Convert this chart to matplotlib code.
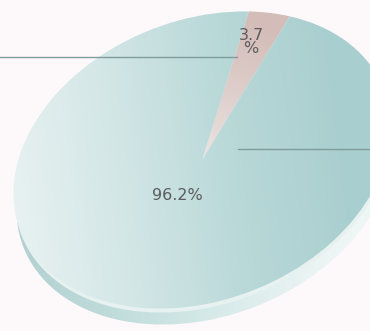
import numpy as np
import matplotlib
matplotlib.use("Agg")
import matplotlib.pyplot as plt
from matplotlib.patches import Ellipse
from matplotlib.transforms import Affine2D
from matplotlib.colors import LinearSegmentedColormap

# pie data
shares = [3.7, 96.2]
labels = ["3.7\n%", "96.2%"]
label_pos = [(251, 289), (177, 135)]

# leader lines (y measured from the bottom)
leader_x = [(0, 237), (238, 370)]
leader_y = [274, 182]

W, H = 370, 331
fig = plt.figure(figsize=(W / 100, H / 100), dpi=100)
fig.patch.set_facecolor("#fdf9fb")
ax = fig.add_axes([0, 0, 1, 1])

# tilted disc: unit pie squashed into an ellipse and turned
cx, cy = 202, 171
ra, rb, turn = 195, 140, 21.5
tilt = Affine2D().scale(ra, rb).rotate_deg(turn).translate(cx, cy)

gx, gy = np.meshgrid(np.linspace(0, 1, W), np.linspace(0, 1, H))

# side of the disc, peeking out under the rim
side = Ellipse((cx + 3, cy - 16), 2 * ra, 2 * rb, angle=turn,
               facecolor="none", edgecolor="none", zorder=1)
ax.add_patch(side)
side_cmap = LinearSegmentedColormap.from_list(
    "side", ["#b0cfce", "#bfdcdb", "#d8ebea", "#eef6f5"])
side_img = ax.imshow(np.clip(gx * 1.1, 0, 1), cmap=side_cmap,
                     extent=(0, W, 0, H), origin="lower", aspect="auto",
                     interpolation="bilinear", zorder=1)
side_img.set_clip_path(side)

rim = Ellipse((cx + 1, cy - 4), 2 * ra, 2 * rb, angle=turn,
              facecolor="#e6f1f0", edgecolor="none", zorder=1.5)
ax.add_patch(rim)

wedges, _ = ax.pie(shares, startangle=46.5, counterclock=True,
                   radius=1, center=(0, 0))
ax.set_aspect("auto")
ax.set_xlim(0, W)
ax.set_ylim(0, H)
ax.axis("off")

# teal face shading, light on the left and deeper to the right
teal = LinearSegmentedColormap.from_list(
    "teal", ["#e9f2f2", "#d3e6e6", "#b9d8d8", "#a9cecf"])
shade = np.clip(gx * 1.05 + (gy - 0.5) * 0.12, 0, 1)

# pink slice gets lighter towards the centre
pink = LinearSegmentedColormap.from_list("pink", ["#ede7e5", "#d4bdb9"])
px = (gx * W - cx) / ra
py = (gy * H - cy) / rb
radial = np.clip(np.hypot(px, py) ** 0.8, 0, 1)

for w, cmap, field in [(wedges[0], pink, radial), (wedges[1], teal, shade)]:
    w.set_transform(tilt + ax.transData)
    w.set_facecolor("none")
    w.set_edgecolor("none")
    w.set_zorder(3)
    img = ax.imshow(field, cmap=cmap, extent=(0, W, 0, H), origin="lower",
                    aspect="auto", interpolation="bilinear", zorder=2)
    img.set_clip_path(w)

for (x0, x1), y in zip(leader_x, leader_y):
    ax.plot([x0, x1], [y, y], color="#7f9c9b", lw=1.0, zorder=4)

for text, (tx, ty) in zip(labels, label_pos):
    ax.text(tx, ty, text, ha="center", va="center", fontsize=11.5,
            color="#5c5c5c", linespacing=0.85, zorder=5)

fig.savefig("out.png", dpi=100, facecolor=fig.get_facecolor())
